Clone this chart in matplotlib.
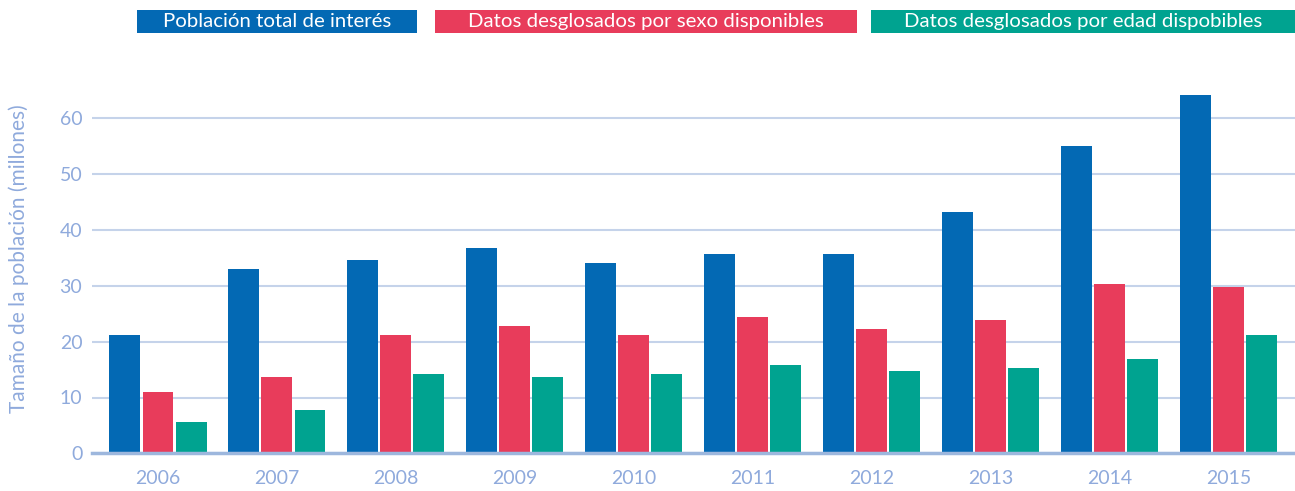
import matplotlib
matplotlib.use("Agg")
import matplotlib.pyplot as plt
import numpy as np
from matplotlib.patches import Rectangle

years = ["2006", "2007", "2008", "2009", "2010", "2011", "2012", "2013", "2014", "2015"]
total = [21.2, 33.0, 34.7, 36.8, 34.1, 35.7, 35.7, 43.2, 55.0, 64.2]
sexo = [11.0, 13.7, 21.2, 22.8, 21.2, 24.4, 22.3, 23.9, 30.4, 29.8]
edad = [5.6, 7.8, 14.2, 13.7, 14.2, 15.8, 14.8, 15.3, 16.9, 21.2]
series_names = ["Población total de interés",
                "Datos desglosados por sexo disponibles",
                "Datos desglosados por edad dispobibles"]
yticks = [0, 10, 20, 30, 40, 50, 60]
ylabel = "Tamaño de la población (millones)"

colors = ["#0369B4", "#E83C5B", "#00A390"]
tick_color = "#8FAADC"
grid_color = "#C5D3EA"

plt.rcParams['font.family'] = ['Lato', 'DejaVu Sans']

W, H = 1295, 491
fig = plt.figure(figsize=(W / 100, H / 100), dpi=100)
ax = fig.add_axes([92 / W, (H - 453.3) / H, 1 - 92 / W, (453.3 - 90.6) / H])

x = np.arange(len(years))
bw = 0.26
step = 0.278
for i, (vals, c) in enumerate(zip([total, sexo, edad], colors)):
    ax.bar(x + (i - 1) * step, vals, width=bw, color=c, zorder=3, linewidth=0)

ax.set_xlim(-0.555, 9.56)
ax.set_ylim(0, 65)
ax.set_yticks(yticks)
ax.set_xticks(x)
ax.set_xticklabels(years)
ax.tick_params(axis='both', length=0, colors=tick_color, labelsize=14)
ax.tick_params(axis='y', pad=7)
ax.tick_params(axis='x', pad=12)
ax.grid(axis='y', color=grid_color, linewidth=1.5, zorder=0)
for s in ["top", "right", "left"]:
    ax.spines[s].set_visible(False)
ax.spines["bottom"].set_color("#9DB7DD")
ax.spines["bottom"].set_linewidth(2.5)
ax.spines["bottom"].set_zorder(4)
ax.set_ylabel(ylabel, color=tick_color, fontsize=15)
ax.yaxis.set_label_coords(-(92 - 29) / (W - 92), 0.5 - (259 - (453.3 + 90.6) / 2) / (453.3 - 90.6))

# legend boxes
boxes = [(137, 417), (435, 857), (871, 1295)]
for (x0, x1), name, c in zip(boxes, series_names, colors):
    fig.patches.append(Rectangle((x0 / W, (H - 33) / H), (x1 - x0) / W, 23 / H,
                                 transform=fig.transFigure, color=c, linewidth=0))
    fig.text((x0 + x1) / 2 / W, (H - 21.5) / H, name, color="white", fontsize=14.7,
             ha="center", va="center")

fig.savefig("out.png", dpi=100)
